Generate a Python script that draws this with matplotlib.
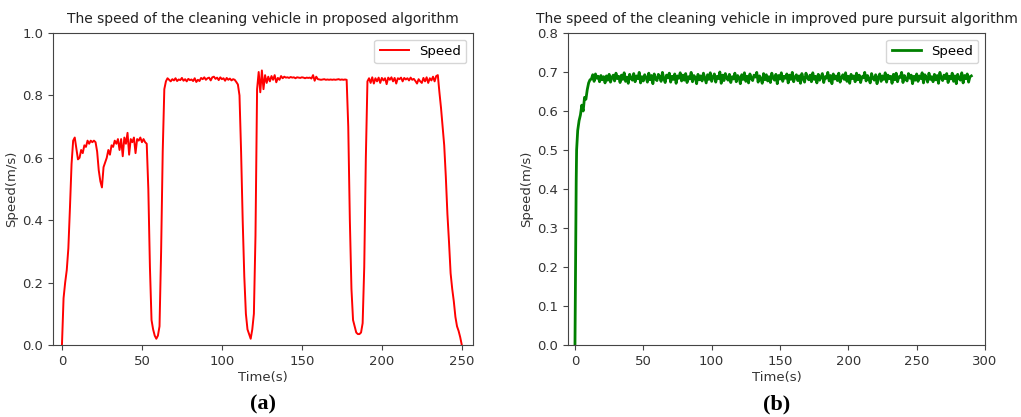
"""Speed of the cleaning vehicle: proposed algorithm vs improved pure pursuit"""
import numpy as np
from matplotlib import pyplot as plt

# (a) proposed algorithm, one sample per second, 0..250 s
time_a = np.arange(0, 251)
speed_a = [
    0.00, 0.15, 0.20, 0.24, 0.31, 0.44, 0.58, 0.655, 0.665, 0.63,
    0.595, 0.60, 0.625, 0.615, 0.64, 0.635, 0.655, 0.645, 0.655, 0.65,
    0.655, 0.65, 0.62, 0.56, 0.525, 0.505, 0.57, 0.585, 0.60, 0.625,
    0.61, 0.64, 0.635, 0.655, 0.645, 0.66, 0.625, 0.66, 0.605, 0.665,
    0.645, 0.68, 0.61, 0.66, 0.65, 0.665, 0.615, 0.66, 0.655, 0.665,
    0.65, 0.66, 0.65, 0.645, 0.50, 0.25, 0.08, 0.05, 0.03, 0.02,
    0.03, 0.06, 0.30, 0.62, 0.82, 0.845, 0.855, 0.85, 0.845, 0.852,
    0.848, 0.855, 0.846, 0.851, 0.849, 0.856, 0.847, 0.852, 0.845, 0.853,
    0.849, 0.851, 0.846, 0.855, 0.843, 0.85, 0.846, 0.856, 0.852, 0.858,
    0.85, 0.855, 0.857, 0.848, 0.858, 0.86, 0.853, 0.857, 0.849, 0.858,
    0.852, 0.855, 0.847, 0.856, 0.85, 0.854, 0.848, 0.852, 0.85, 0.843,
    0.835, 0.80, 0.62, 0.40, 0.22, 0.10, 0.05, 0.035, 0.02, 0.05,
    0.10, 0.35, 0.82, 0.875, 0.81, 0.88, 0.82, 0.865, 0.84, 0.86,
    0.845, 0.862, 0.85, 0.865, 0.842, 0.856, 0.85, 0.862, 0.855, 0.86,
    0.857, 0.858, 0.856, 0.859, 0.857, 0.858, 0.855, 0.858, 0.857, 0.856,
    0.858, 0.857, 0.855, 0.857, 0.856, 0.857, 0.854, 0.865, 0.847, 0.86,
    0.852, 0.851, 0.850, 0.851, 0.852, 0.850, 0.851, 0.850, 0.851, 0.850,
    0.851, 0.850, 0.851, 0.852, 0.850, 0.851, 0.850, 0.851, 0.850, 0.70,
    0.40, 0.18, 0.08, 0.06, 0.04, 0.035, 0.035, 0.04, 0.07, 0.25,
    0.60, 0.845, 0.855, 0.84, 0.858, 0.838, 0.855, 0.845, 0.857, 0.84,
    0.856, 0.848, 0.855, 0.836, 0.857, 0.85, 0.858, 0.845, 0.856, 0.838,
    0.855, 0.852, 0.857, 0.845, 0.856, 0.851, 0.855, 0.848, 0.857, 0.85,
    0.853, 0.846, 0.838, 0.852, 0.845, 0.84, 0.856, 0.845, 0.858, 0.84,
    0.855, 0.848, 0.86, 0.845, 0.862, 0.865, 0.81, 0.76, 0.70, 0.64,
    0.54, 0.42, 0.33, 0.23, 0.18, 0.14, 0.09, 0.06, 0.045, 0.025,
    0.0,
]

# (b) improved pure pursuit: start-up ramp, then one sample per second
time_b_rise = [0, 0.3, 0.6, 0.9, 1.2, 2, 3, 4, 5, 6, 7, 8, 9, 10, 11]
speed_b_rise = [0, 0.15, 0.30, 0.42, 0.50, 0.55, 0.575, 0.59, 0.615, 0.60,
                0.635, 0.63, 0.655, 0.672, 0.68]
time_b_steady = np.arange(12, 291)
speed_b_steady_milli = [
    682, 693, 676, 695, 684, 689, 675, 691, 680, 688,
    672, 690, 679, 694, 674, 686, 692, 677, 697, 683,
    689, 673, 692, 681, 698, 676, 687, 671, 694, 684,
    679, 696, 675, 690, 683, 699, 672, 688, 677, 693,
    686, 674, 697, 680, 691, 670, 695, 682, 678, 694,
    688, 676, 699, 683, 673, 692, 685, 697, 674, 689,
    681, 695, 671, 690, 684, 698, 677, 692, 679, 696,
    673, 688, 682, 699, 675, 691, 686, 670, 694, 680,
    690, 677, 697, 684, 672, 693, 681, 698, 676, 687,
    695, 674, 689, 683, 700, 671, 692, 678, 696, 685,
    679, 694, 673, 688, 682, 697, 675, 691, 686, 670,
    693, 681, 698, 676, 689, 672, 695, 684, 678, 692,
    687, 699, 674, 690, 683, 671, 696, 680, 693, 677,
    688, 673, 697, 685, 679, 694, 670, 691, 682, 698,
    676, 689, 684, 695, 672, 692, 681, 699, 675, 687,
    693, 678, 690, 671, 696, 683, 674, 697, 686, 680,
    692, 675, 698, 681, 689, 672, 694, 679, 687, 696,
    673, 688, 684, 699, 677, 691, 670, 695, 682, 690,
    678, 697, 674, 686, 693, 681, 698, 676, 689, 671,
    694, 683, 690, 675, 697, 680, 692, 673, 688, 685,
    699, 677, 691, 682, 672, 696, 684, 679, 693, 670,
    687, 695, 676, 690, 681, 698, 674, 692, 683, 689,
    671, 694, 680, 697, 675, 688, 686, 699, 673, 691,
    682, 677, 696, 684, 692, 670, 689, 679, 695, 676,
    690, 683, 698, 672, 693, 687, 674, 697, 681, 688,
    675, 694, 680, 691, 671, 699, 685, 678, 692, 683,
    696, 673, 689, 682, 697, 676, 690, 670, 694, 684,
    679, 698, 672, 691, 683, 695, 674, 688, 690,
]

titles = ['The speed of the cleaning vehicle in proposed algorithm',
          'The speed of the cleaning vehicle in improved pure pursuit algorithm']
captions = ['a', 'b']

W, H = 1021, 417
fig = plt.figure(figsize=(W / 100, H / 100), dpi=100)
ax_a = fig.add_axes([53 / W, 72 / H, 420 / W, 312 / H])
ax_b = fig.add_axes([568 / W, 72 / H, 417 / W, 312 / H])

ax_a.plot(time_a, speed_a, color='red', lw=1.4, label='Speed')
ax_a.set_xlim(-5.6, 257)
ax_a.set_ylim(0, 1.0)
ax_a.set_xticks(np.arange(0, 251, 50))
ax_a.set_yticks(np.arange(0, 1.01, 0.2))

time_b = np.concatenate([time_b_rise, time_b_steady])
speed_b = np.concatenate([speed_b_rise, np.array(speed_b_steady_milli) / 1000.])
ax_b.plot(time_b, speed_b, color='green', lw=2.0, label='Speed')
ax_b.set_xlim(-5.1, 300)
ax_b.set_ylim(0, 0.8)
ax_b.set_xticks(np.arange(0, 301, 50))
ax_b.set_yticks(np.arange(0, 0.81, 0.1))

for ax, title, cap in zip([ax_a, ax_b], titles, captions):
    ax.set_title(title, fontsize=10, color='#222222', pad=7)
    ax.set_xlabel('Time(s)', fontsize=9.5, color='#333333', labelpad=2)
    ax.set_ylabel('Speed(m/s)', fontsize=9.5, color='#333333', labelpad=3)
    ax.tick_params(labelsize=9.5, labelcolor='#333333', color='#444444', length=3.5)
    ax.yaxis.set_major_formatter(plt.FormatStrFormatter('%.1f'))
    for s in ax.spines.values():
        s.set_color('#444444')
    ax.legend(loc='upper right', fontsize=9.5, handlelength=2.2)
    pos = ax.get_position()
    fig.text(pos.x0 + pos.width / 2, 13 / H, '(' + cap + ')', ha='center', va='center',
             fontsize=16, fontweight='bold', family='Liberation Serif')

fig.savefig('out.png', dpi=100)
